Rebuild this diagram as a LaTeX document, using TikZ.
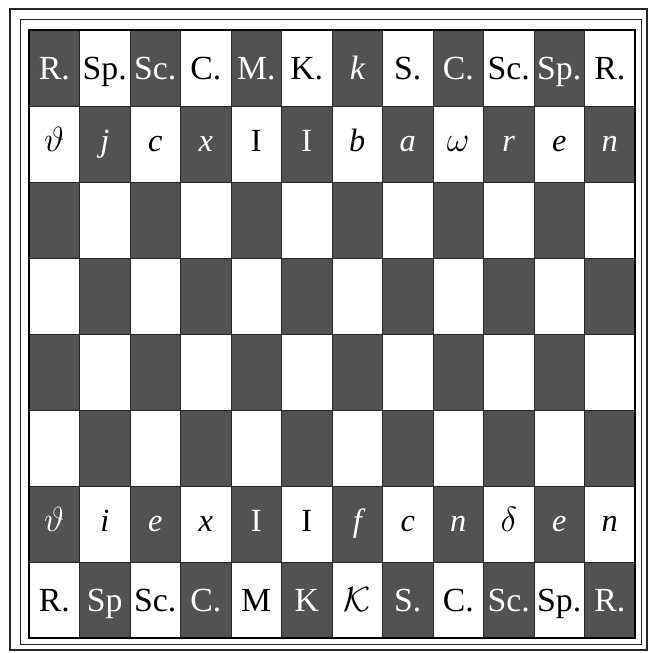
\documentclass[tikz,border=0pt]{standalone}
\usepackage{fontspec}
\setmainfont{Liberation Serif}
\tikzset{
  cell/.style  = {rectangle, inner sep=0pt, outer sep=0pt, line width=0.5pt,
                  minimum width=1.2625cm, minimum height=1.9cm},
  dark/.style  = {cell, fill=black!68, draw=black!85},
  light/.style = {cell, fill=white, draw=black!85},
  piece/.style = {inner sep=0pt, text height=15.9pt, text depth=0pt,
                  font=\fontsize{24}{24}\selectfont},
  pawn/.style  = {inner sep=0pt, text height=10.6pt, text depth=0pt,
                  font=\fontsize{23}{23}\selectfont\itshape},
  frame/.style = {draw=black!85, line width=1.1pt},
}

\begin{document}
\begin{tikzpicture}[x=0.025cm, y=-0.025cm]
      \useasboundingbox (0,0) rectangle (652,653);

      % double frame round the board
      \draw[frame, line width=1.4pt] (10,9) rectangle (647,650);
      \draw[frame, line width=0.7pt] (20,19) rectangle (641,644);

      % the squares
      \foreach \c in {1,...,12}
        \foreach \r in {1,...,8}{
          \pgfmathtruncatemacro{\odd}{mod(\c+\r,2)}
          \ifnum\odd=0 \def\sq{dark}\else\def\sq{light}\fi
          \node[\sq] (sq-\c-\r) at (3.75+50.5*\c, -8+76*\r) {};
        }
      \draw[line width=0.8pt] (sq-1-1.north west) rectangle (sq-12-8.south east);

      % back row, top
      \foreach \t [count=\c] in {R.,Sp.,Sc.,C.,M.,K.,{\itshape k},S.,C.,Sc.,Sp.,R.}{
        \pgfmathtruncatemacro{\odd}{mod(\c+1,2)}
        \ifnum\odd=0 \def\ink{white}\else\def\ink{black}\fi
        \node[piece, text=\ink] (top-\c) at (sq-\c-1) {\t};
      }
      % pawns, top
      \foreach \t [count=\c] in {$\vartheta$,j,c,x,{\upshape I},{\upshape I},b,a,$\omega$,r,e,n}{
        \pgfmathtruncatemacro{\odd}{mod(\c+2,2)}
        \ifnum\odd=0 \def\ink{white}\else\def\ink{black}\fi
        \node[pawn, text=\ink] (tp-\c) at (sq-\c-2) {\t};
      }
      % pawns, bottom
      \foreach \t [count=\c] in {$\vartheta$,i,e,x,{\upshape I},{\upshape I},f,c,n,$\delta$,e,n}{
        \pgfmathtruncatemacro{\odd}{mod(\c+7,2)}
        \ifnum\odd=0 \def\ink{white}\else\def\ink{black}\fi
        \node[pawn, text=\ink] (bp-\c) at (sq-\c-7) {\t};
      }
      % back row, bottom
      \foreach \t [count=\c] in {R.,Sp,Sc.,C.,M,K,$\mathcal{K}$,S.,C.,Sc.,Sp.,R.}{
        \pgfmathtruncatemacro{\odd}{mod(\c+8,2)}
        \ifnum\odd=0 \def\ink{white}\else\def\ink{black}\fi
        \node[piece, text=\ink] (bot-\c) at (sq-\c-8) {\t};
      }
    \end{tikzpicture}
\end{document}
